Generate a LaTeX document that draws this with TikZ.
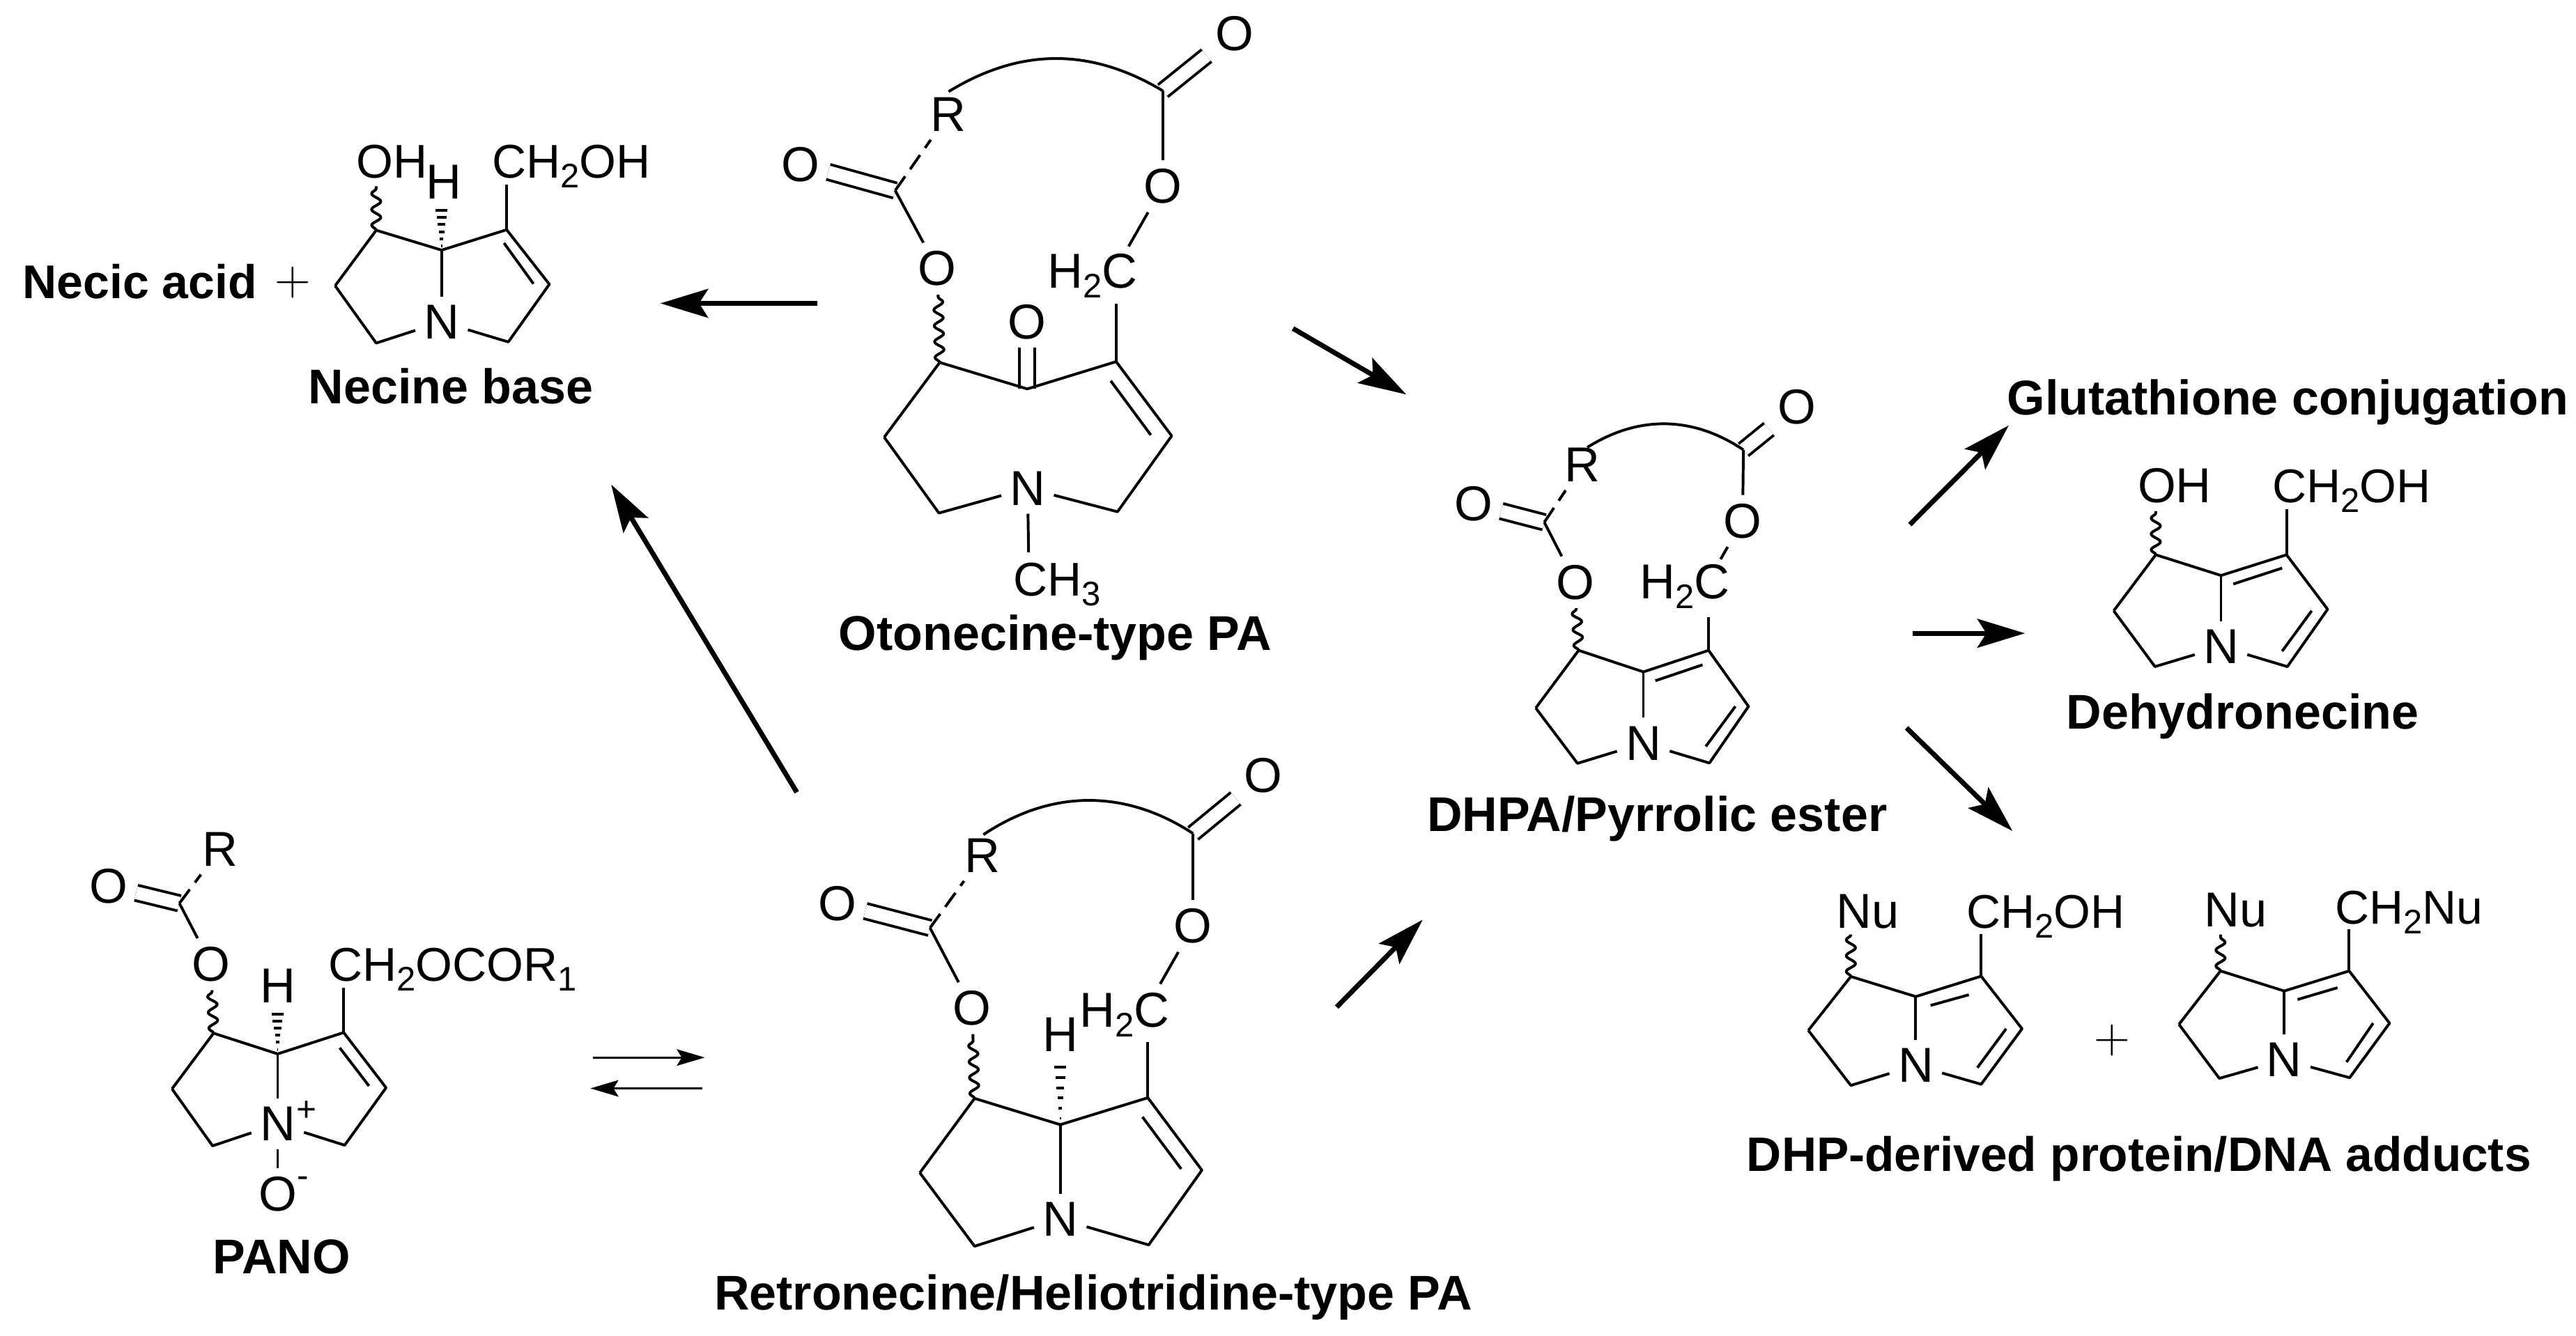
\documentclass[tikz,border=0pt]{standalone}
\usepackage{fontspec}
\setmainfont{Liberation Sans}
\usetikzlibrary{arrows.meta,calc,decorations.pathmorphing}
\tikzstyle{atom} = [inner sep=2.5pt, font=\fontsize{17}{17}\selectfont]
\tikzstyle{atomgroup} = [anchor=base west, inner sep=0pt, font=\fontsize{17}{17}\selectfont]
\tikzstyle{smallgroup} = [atomgroup, font=\fontsize{16.4}{16.4}\selectfont]
\tikzstyle{caption} = [anchor=base, inner sep=0pt, font=\bfseries\fontsize{16.9}{16.9}\selectfont]
\tikzstyle{plussign} = [inner sep=0pt, font=\fontsize{17}{17}\selectfont]
\tikzstyle{charge} = [inner sep=0pt, font=\fontsize{12}{12}\selectfont]
\tikzstyle{wavy} = [decorate, decoration={snake, amplitude=1.6pt, segment length=5.5pt}]
\tikzstyle{dbond} = [double, double distance=4.4pt]
\tikzstyle{dashbond} = [dash pattern=on 6pt off 3pt]
\tikzstyle{arrow} = [line width=1.7pt, -{Stealth[length=.58cm, width=.35cm, inset=.11cm]}]
\tikzstyle{eqarrow} = [line width=.8pt, -{Stealth[length=.34cm, width=.2cm, inset=.06cm]}]
\newcommand{\low}[1]{\raisebox{-3.4pt}{\fontsize{11.8}{11.8}\selectfont #1}}
\newcommand{\hashbond}[2]{\foreach \t in {.1,.26,.42,.58,.74,.9}
  \draw ($(#1)!\t!(#2)+(-\t*4,0)$) -- ($(#1)!\t!(#2)+(\t*4,0)$);}

\begin{document}
\begin{tikzpicture}[x=0.02cm, y=-0.02cm, line width=.95pt, line join=round]
  \useasboundingbox (0,0) rectangle (1568,813.4);

  % necine base
  \coordinate (nb1) at (229,140.2); \coordinate (nb7) at (268.8,152.3);
  \coordinate (nb8) at (308.4,139.9); \coordinate (nb9) at (334.4,173.1);
  \coordinate (nb10) at (309.4,208.2); \coordinate (nb3) at (229,208.9);
  \coordinate (nb4) at (204,174); \coordinate (nbw) at (229,113.4);
  \coordinate (nbh) at (268.8,125.5); \coordinate (nbc) at (308.4,112.5);
  \coordinate (nbi1) at (306.8,148); \coordinate (nbi2) at (324.7,172.8);
  \node (nbN) [atom] at (268.8,196) {N};
  \node (nbOH) [smallgroup] at (216,108.2) {OH};
  \node (nbH) [atom, inner sep=0pt] at (270,110.8) {H};
  \node (nbCH) [smallgroup] at (298.7,108.2) {CH\low{2}OH};
  \draw (nb4) -- (nb1) -- (nb7) -- (nb8) -- (nb9) -- (nb10) -- (nbN) -- (nb3) -- (nb4);
  \draw (nb7) -- (nbN);
  \draw (nbi1) -- (nbi2);
  \draw (nb8) -- (nbc);
  \draw[wavy] (nb1) -- (nbw);
  \hashbond{nb7}{nbh}
  \node (necic) [caption, anchor=base west, font=\bfseries\fontsize{16.4}{16.4}\selectfont] at (13,181.8) {Necic acid};
  \node (nbplus) [plussign] at (178.3,172.2) {$+$};
  \node (nbname) [caption] at (274.4,245.8) {Necine base};

  % otonecine
  \coordinate (ot1) at (572,220.7); \coordinate (ot2) at (625.3,236.8);
  \coordinate (ot8) at (679.4,220.2); \coordinate (ot9) at (713.2,265.4);
  \coordinate (ot10) at (680.2,311.6); \coordinate (ot3) at (571.5,312.4);
  \coordinate (ot4) at (538.2,266.2); \coordinate (otc) at (679.4,184.9);
  \coordinate (oti1) at (676.1,231.9); \coordinate (oti2) at (700.5,264.9);
  \coordinate (otcl) at (544.9,116); \coordinate (otcr) at (707.8,55.3);
  \coordinate (otarc) at (577.4,55.8); \coordinate (oth2c) at (687,150);
  \coordinate (otch) at (626.1,336.3);
  \node (otN) [atom] at (625.5,297.3) {N};
  \node (otK) [atom] at (625.3,196) {O};
  \node (otOl) [atom] at (570.6,163.6) {O};
  \node (otOr) [atom] at (707.8,113.5) {O};
  \node (otOa) [atom] at (487.3,100) {O};
  \node (otOb) [atom] at (751.3,20.3) {O};
  \node (otR) [atom] at (577.4,69.6) {R};
  \node (otH) [atomgroup] at (636.9,175.3) {H\low{2}C};
  \node (otM) [smallgroup] at (616,362.8) {CH\low{3}};
  \draw[dbond] (otcl) -- (otOa);
  \draw[dbond] (otcr) -- (otOb);
  \draw[dbond] (ot2) -- (otK);
  \draw (ot4) -- (ot1) -- (ot2) -- (ot8) -- (ot9) -- (ot10) -- (otN) -- (ot3) -- (ot4);
  \draw (oti1) -- (oti2);
  \draw (ot8) -- (otc);
  \draw (otN) -- (otch);
  \draw[wavy] (ot1) -- (otOl);
  \draw (otcl) -- (otOl);
  \draw[dashbond] (otcl) -- (otR);
  \draw (otcr) -- (otOr);
  \draw (otOr) -- (oth2c);
  \draw (otarc) .. controls (621,29) and (664,29) .. (otcr);
  \node (otname) [caption] at (642.3,396) {Otonecine-type PA};

  % PANO
  \coordinate (pn1) at (130,629.1); \coordinate (pn7) at (169,641.7);
  \coordinate (pn8) at (209.2,628.7); \coordinate (pn9) at (235,662.3);
  \coordinate (pn10) at (209.8,697.3); \coordinate (pn3) at (129.4,697.7);
  \coordinate (pn4) at (104.7,663); \coordinate (pnh) at (169,614.7);
  \coordinate (pnc) at (209.2,601.5); \coordinate (pncl) at (109.2,550);
  \coordinate (pni1) at (206.8,638); \coordinate (pni2) at (224.6,661.2);
  \node (pnN) [atom] at (169,684.4) {N};
  \node (pnplus) [charge] at (186.5,676.7) {+};
  \node (pnO) [atom] at (169,726.9) {O};
  \node (pnminus) [charge] at (184.5,719.8) {-};
  \node (pnOl) [atom] at (128.5,587.1) {O};
  \node (pnOa) [atom] at (66,539.5) {O};
  \node (pnR) [atom] at (133.9,517) {R};
  \node (pnH) [atom] at (169,600.4) {H};
  \node (pnCH) [smallgroup] at (199,597.5) {CH\low{2}OCOR\low{1}};
  \draw[dbond] (pncl) -- (pnOa);
  \draw (pn4) -- (pn1) -- (pn7) -- (pn8) -- (pn9) -- (pn10) -- (pnN) -- (pn3) -- (pn4);
  \draw (pn7) -- (pnN);
  \draw (pnN) -- (pnO);
  \draw (pni1) -- (pni2);
  \draw (pn8) -- (pnc);
  \draw[wavy] (pn1) -- (pnOl);
  \draw (pncl) -- (pnOl);
  \draw[dashbond] (pncl) -- (pnR);
  \hashbond{pn7}{pnh}
  \node (pnname) [caption] at (171.4,775.6) {PANO};

  % retronecine / heliotridine
  \coordinate (rt1) at (593.2,668.8); \coordinate (rt7) at (645.4,684.8);
  \coordinate (rt8) at (698.7,668.4); \coordinate (rt9) at (731.6,712.5);
  \coordinate (rt10) at (699.2,758); \coordinate (rt3) at (593.2,758.8);
  \coordinate (rt4) at (559.9,714.1); \coordinate (rth) at (645.4,646);
  \coordinate (rtc) at (698.7,634.3); \coordinate (rtcl) at (566.1,565);
  \coordinate (rtcr) at (726.2,507.5); \coordinate (rtarc) at (598.6,508.2);
  \coordinate (rth2c) at (706.2,599.1);
  \coordinate (rti1) at (695.4,680.1); \coordinate (rti2) at (719,711.8);
  \node (rtN) [atom] at (645.4,742.3) {N};
  \node (rtOl) [atom] at (591.8,613.9) {O};
  \node (rtOr) [atom] at (726.2,563.9) {O};
  \node (rtOa) [atom] at (509.8,550.3) {O};
  \node (rtOb) [atom] at (769,472.3) {O};
  \node (rtR) [atom] at (598,520.9) {R};
  \node (rtH) [atom] at (645.4,630.1) {H};
  \node (rtH2) [atomgroup] at (656.2,625.2) {H\low{2}C};
  \draw[dbond] (rtcl) -- (rtOa);
  \draw[dbond] (rtcr) -- (rtOb);
  \draw (rt4) -- (rt1) -- (rt7) -- (rt8) -- (rt9) -- (rt10) -- (rtN) -- (rt3) -- (rt4);
  \draw (rt7) -- (rtN);
  \draw (rti1) -- (rti2);
  \draw (rt8) -- (rtc);
  \draw[wavy] (rt1) -- (rtOl);
  \draw (rtcl) -- (rtOl);
  \draw[dashbond] (rtcl) -- (rtR);
  \draw (rtcr) -- (rtOr);
  \draw (rtOr) -- (rth2c);
  \draw (rtarc) .. controls (640,480.5) and (685,480.5) .. (rtcr);
  \hashbond{rt7}{rth}
  \node (rtname) [caption] at (665.5,797.5) {Retronecine/Heliotridine-type PA};

  % DHPA
  \coordinate (dh1) at (960.9,396); \coordinate (dh7) at (1000.3,409.1);
  \coordinate (dh8) at (1040,396); \coordinate (dh9) at (1064.3,430.1);
  \coordinate (dh10) at (1040.5,464.6); \coordinate (dh3) at (960.2,464.8);
  \coordinate (dh4) at (934.8,431.1); \coordinate (dhc) at (1040,375.6);
  \coordinate (dhcl) at (940,318); \coordinate (dhcr) at (1061.2,273.9);
  \coordinate (dharc) at (966.2,272.4); \coordinate (dhh2c) at (1047.3,340.5);
  \coordinate (dhi1) at (1007.6,414.5); \coordinate (dhi2) at (1036.3,404.8);
  \coordinate (dhi3) at (1056.3,430.1); \coordinate (dhi4) at (1038.3,454.5);
  \node (dhN) [atom] at (1000.3,452.5) {N};
  \node (dhOl) [atom] at (958.7,354.5) {O};
  \node (dhOr) [atom] at (1060.7,317.2) {O};
  \node (dhOa) [atom] at (896.9,306.8) {O};
  \node (dhOb) [atom] at (1093.6,247.6) {O};
  \node (dhR) [atom] at (963.3,283.1) {R};
  \node (dhH2) [atomgroup] at (997.4,364.6) {H\low{2}C};
  \draw[dbond] (dhcl) -- (dhOa);
  \draw[dbond] (dhcr) -- (dhOb);
  \draw (dh4) -- (dh1) -- (dh7) -- (dh8) -- (dh9) -- (dh10) -- (dhN) -- (dh3) -- (dh4);
  \draw (dh7) -- (dhN);
  \draw (dhi1) -- (dhi2);
  \draw (dhi3) -- (dhi4);
  \draw (dh8) -- (dhc);
  \draw[wavy] (dh1) -- (dhOl);
  \draw (dhcl) -- (dhOl);
  \draw[dashbond] (dhcl) -- (dhR);
  \draw (dhcr) -- (dhOr);
  \draw (dhOr) -- (dhh2c);
  \draw (dharc) .. controls (997,253) and (1030,253) .. (dhcr);
  \node (dhname) [caption] at (1008.7,506) {DHPA/Pyrrolic ester};

  % products on the right
  \node (glut) [caption] at (1392.5,252.6) {Glutathione conjugation};

  % dehydronecine
  \coordinate (dn1) at (1312.2,337.8); \coordinate (dn7) at (1351.9,350.4);
  \coordinate (dn8) at (1391.8,337.8); \coordinate (dn9) at (1416.8,371);
  \coordinate (dn10) at (1392.3,405.9); \coordinate (dn3) at (1311.7,405.9);
  \coordinate (dn4) at (1286.6,371.9); \coordinate (dnw) at (1312.2,311.3);
  \coordinate (dnc) at (1391.8,310.2);
  \coordinate (dni1) at (1359.4,355.6); \coordinate (dni2) at (1389.1,345.9);
  \coordinate (dni3) at (1407.1,371.9); \coordinate (dni4) at (1389.1,396.5);
  \node (dnN) [atom] at (1351.9,393.8) {N};
  \node (dnOH) [atomgroup] at (1300.4,306) {OH};
  \node (dnCH) [smallgroup] at (1382.3,306) {CH\low{2}OH};
  \draw (dn4) -- (dn1) -- (dn7) -- (dn8) -- (dn9) -- (dn10) -- (dnN) -- (dn3) -- (dn4);
  \draw (dn7) -- (dnN);
  \draw (dni1) -- (dni2);
  \draw (dni3) -- (dni4);
  \draw (dn8) -- (dnc);
  \draw[wavy] (dn1) -- (dnw);
  \node (dnname) [caption] at (1365,444) {Dehydronecine};

  % adducts
  \coordinate (aa1) at (1126.6,594.6); \coordinate (aa7) at (1166.1,606.8);
  \coordinate (aa8) at (1205.9,594.4); \coordinate (aa9) at (1230.8,626.4);
  \coordinate (aa10) at (1205.9,660.2); \coordinate (aa3) at (1126.6,660.9);
  \coordinate (aa4) at (1100.7,627.4); \coordinate (aaw) at (1126.6,569);
  \coordinate (aac) at (1205.9,568.7);
  \coordinate (aai1) at (1175.1,612.2); \coordinate (aai2) at (1198.4,605.7);
  \coordinate (aai3) at (1221.1,626.4); \coordinate (aai4) at (1203.6,650.1);
  \node (aaN) [atom] at (1166.1,648.7) {N};
  \node (aaNu) [atomgroup] at (1116.9,565) {Nu};
  \node (aaCH) [smallgroup] at (1196.2,565) {CH\low{2}OH};
  \draw (aa4) -- (aa1) -- (aa7) -- (aa8) -- (aa9) -- (aa10) -- (aaN) -- (aa3) -- (aa4);
  \draw (aa7) -- (aaN);
  \draw (aai1) -- (aai2);
  \draw (aai3) -- (aai4);
  \draw (aa8) -- (aac);
  \draw[wavy] (aa1) -- (aaw);
  \node (adplus) [plussign] at (1285.8,633.5) {$+$};

  \coordinate (ab1) at (1351.6,591.2); \coordinate (ab7) at (1390.4,603.4);
  \coordinate (ab8) at (1429.9,591.2); \coordinate (ab9) at (1454.5,623);
  \coordinate (ab10) at (1430.2,656.2); \coordinate (ab3) at (1350.9,656.6);
  \coordinate (ab4) at (1326.3,623.7); \coordinate (abw) at (1351.6,569);
  \coordinate (abc) at (1429.9,565.6);
  \coordinate (abi1) at (1398.5,608.6); \coordinate (abi2) at (1422.8,601.4);
  \coordinate (abi3) at (1444.5,623); \coordinate (abi4) at (1428.3,646.7);
  \node (abN) [atom] at (1390.4,645.3) {N};
  \node (abNu) [atomgroup] at (1341,564.4) {Nu};
  \node (abCH) [smallgroup] at (1420.5,562.4) {CH\low{2}Nu};
  \draw (ab4) -- (ab1) -- (ab7) -- (ab8) -- (ab9) -- (ab10) -- (abN) -- (ab3) -- (ab4);
  \draw (ab7) -- (abN);
  \draw (abi1) -- (abi2);
  \draw (abi3) -- (abi4);
  \draw (ab8) -- (abc);
  \draw[wavy] (ab1) -- (abw);
  \node (adname) [caption, font=\bfseries\fontsize{16.75}{16.75}\selectfont] at (1302,713) {DHP-derived protein/DNA adducts};

  % arrows
  \coordinate (a1s) at (497.7,184.7); \coordinate (a1e) at (402,184.7);
  \coordinate (a2s) at (787,200); \coordinate (a2e) at (856,240.2);
  \coordinate (a3s) at (485,482.4); \coordinate (a3e) at (372,295);
  \coordinate (a4s) at (813.6,613.2); \coordinate (a4e) at (866,560);
  \coordinate (a5s) at (1162.5,319.4); \coordinate (a5e) at (1222.7,259);
  \coordinate (a6s) at (1164.4,385.6); \coordinate (a6e) at (1232.6,385.6);
  \coordinate (a7s) at (1160.5,443.2); \coordinate (a7e) at (1225,506);
  \coordinate (e1s) at (360.9,643.9); \coordinate (e1e) at (429,643.9);
  \coordinate (e2s) at (427.6,662.7); \coordinate (e2e) at (359.4,662.7);
  \draw[arrow] (a1s) -- (a1e);
  \draw[arrow] (a2s) -- (a2e);
  \draw[arrow] (a3s) -- (a3e);
  \draw[arrow] (a4s) -- (a4e);
  \draw[arrow] (a5s) -- (a5e);
  \draw[arrow] (a6s) -- (a6e);
  \draw[arrow] (a7s) -- (a7e);
  \draw[eqarrow] (e1s) -- (e1e);
  \draw[eqarrow] (e2s) -- (e2e);
\end{tikzpicture}
\end{document}
